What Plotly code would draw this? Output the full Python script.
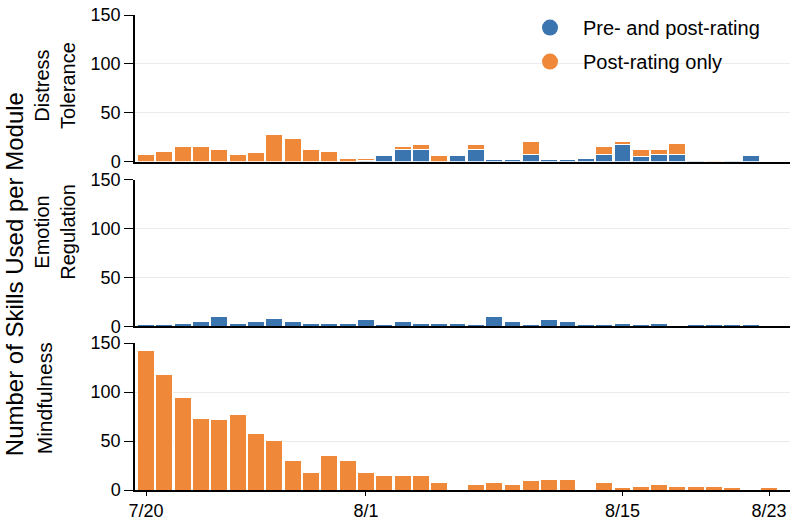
import plotly.graph_objects as go

dates = ["2020-07-20", "2020-07-21", "2020-07-22", "2020-07-23", "2020-07-24",
         "2020-07-25", "2020-07-26", "2020-07-27", "2020-07-28", "2020-07-29",
         "2020-07-30", "2020-07-31", "2020-08-01", "2020-08-02", "2020-08-03",
         "2020-08-04", "2020-08-05", "2020-08-06", "2020-08-07", "2020-08-08",
         "2020-08-09", "2020-08-10", "2020-08-11", "2020-08-12", "2020-08-13",
         "2020-08-14", "2020-08-15", "2020-08-16", "2020-08-17", "2020-08-18",
         "2020-08-19", "2020-08-20", "2020-08-21", "2020-08-22", "2020-08-23"]

distress_pre = [0, 0, 0, 0, 0, 0, 0, 0, 0, 0, 0, 0, 1.5, 6, 13, 13, 0, 6, 13, 2,
                2, 8, 2, 2, 3, 8, 18, 5, 8, 8, 1.5, 0, 1.5, 6, 0]
distress_post = [7, 11, 16, 16, 13, 8, 10, 28, 24, 13, 11, 3, 1.5, 2, 3, 5, 6, 0, 5, 1,
                 1, 13, 1, 1, 0, 8, 3, 8, 5, 11, 0, 1.5, 0, 2, 0]
emotion_pre = [2, 2, 3, 5, 10, 3, 5, 8, 5, 3, 3, 3, 7, 2, 5, 3, 3, 3, 2, 10,
               5, 2, 7, 5, 2, 2, 3, 2, 3, 0, 2, 2, 2, 2, 0]
mind_post = [142, 118, 95, 73, 72, 77, 58, 51, 30, 18, 35, 30, 18, 15, 15, 15, 8, 1, 6, 8,
             6, 10, 11, 11, 1, 8, 3, 4, 6, 4, 4, 4, 3, 0, 3]

tick_dates = ["2020-07-20", "2020-08-01", "2020-08-15", "2020-08-23"]
tick_text = ["7/20", "8/1", "8/15", "8/23"]

series_names = ["Pre- and post-rating", "Post-rating only"]
BLUE = "#3b75af"
ORANGE = "#ef8838"
FONT = "Liberation Sans, Arial, sans-serif"
BAR_W = 0.92 * 86400000

fig = go.Figure()

def bars(y, color, ax):
    fig.add_trace(go.Bar(x=dates, y=y, width=BAR_W, marker=dict(color=color, line=dict(color="white", width=1)),
                         showlegend=False, xaxis="x" if ax == 1 else f"x{ax}", yaxis="y" if ax == 1 else f"y{ax}"))

bars(distress_pre, BLUE, 1)
bars(distress_post, ORANGE, 1)
bars(emotion_pre, BLUE, 2)
bars([0] * len(dates), ORANGE, 2)
bars([0] * len(dates), BLUE, 3)
bars(mind_post, ORANGE, 3)

for i, (nm, col) in enumerate(zip(series_names, [BLUE, ORANGE])):
    fig.add_trace(go.Scatter(x=[None], y=[None], mode="markers", name=nm,
                             marker=dict(color=col, size=20), legendgroup=f"g{i}",
                             xaxis="x", yaxis="y"))

xr = ["2020-07-19 09:30", "2020-08-24 03:30"]
H = 482.0
doms = [[(490 - 157) / H, 1.0], [(490 - 324) / H, (490 - 175) / H], [0.0, (490 - 341) / H]]

layout = dict(
    barmode="stack",
    width=800, height=520,
    margin=dict(l=135, r=10, t=8, b=30),
    paper_bgcolor="white", plot_bgcolor="white",
    font=dict(family=FONT, size=19, color="black"),
    legend=dict(x=(517 - 135) / 655, y=1.0 + 7 / H, xanchor="left", yanchor="top", font=dict(size=20),
                traceorder="grouped", tracegroupgap=5, itemsizing="trace", itemwidth=56,
                bgcolor="rgba(0,0,0,0)"),
)
for k in range(1, 4):
    sx = "" if k == 1 else str(k)
    layout[f"xaxis{sx}"] = dict(
        type="date", range=xr, showline=True, linecolor="black", linewidth=1.5,
        showgrid=False, zeroline=False, anchor=f"y{sx}", domain=[0, 1], automargin=False,
        tickvals=tick_dates, ticktext=tick_text,
        ticks="outside" if k == 3 else "", ticklen=4, tickcolor="black",
        showticklabels=(k == 3), tickfont=dict(size=18),
        **({} if k == 1 else {"matches": "x"}))
    layout[f"yaxis{sx}"] = dict(
        range=[0, 150], domain=doms[k - 1], anchor=f"x{sx}", automargin=False,
        tickvals=[0, 50, 100, 150], showline=True, linecolor="black", linewidth=1.5,
        ticks="outside", ticklen=9, tickcolor="black", showgrid=True,
        gridcolor="#ebebeb", gridwidth=1, zeroline=False, tickfont=dict(size=18))
fig.update_layout(**layout)

def ytitle(text, xpx, ypx, size):
    fig.add_annotation(text=text, xref="paper", yref="paper", x=0, y=(490 - ypx) / H,
                       xshift=xpx - 135, textangle=-90, showarrow=False,
                       font=dict(size=size, color="black", family=FONT),
                       xanchor="center", yanchor="middle")

ytitle("Distress<br>Tolerance", 55, 80, 20)
ytitle("Emotion<br>Regulation", 55, 228, 20)
ytitle("Mindfulness", 44, 397, 21)
ytitle("Number of Skills Used per Module", 14, 271, 24)

fig.write_html("out.html", config={"displayModeBar": False},
               post_script="document.body.style.margin='0';")
